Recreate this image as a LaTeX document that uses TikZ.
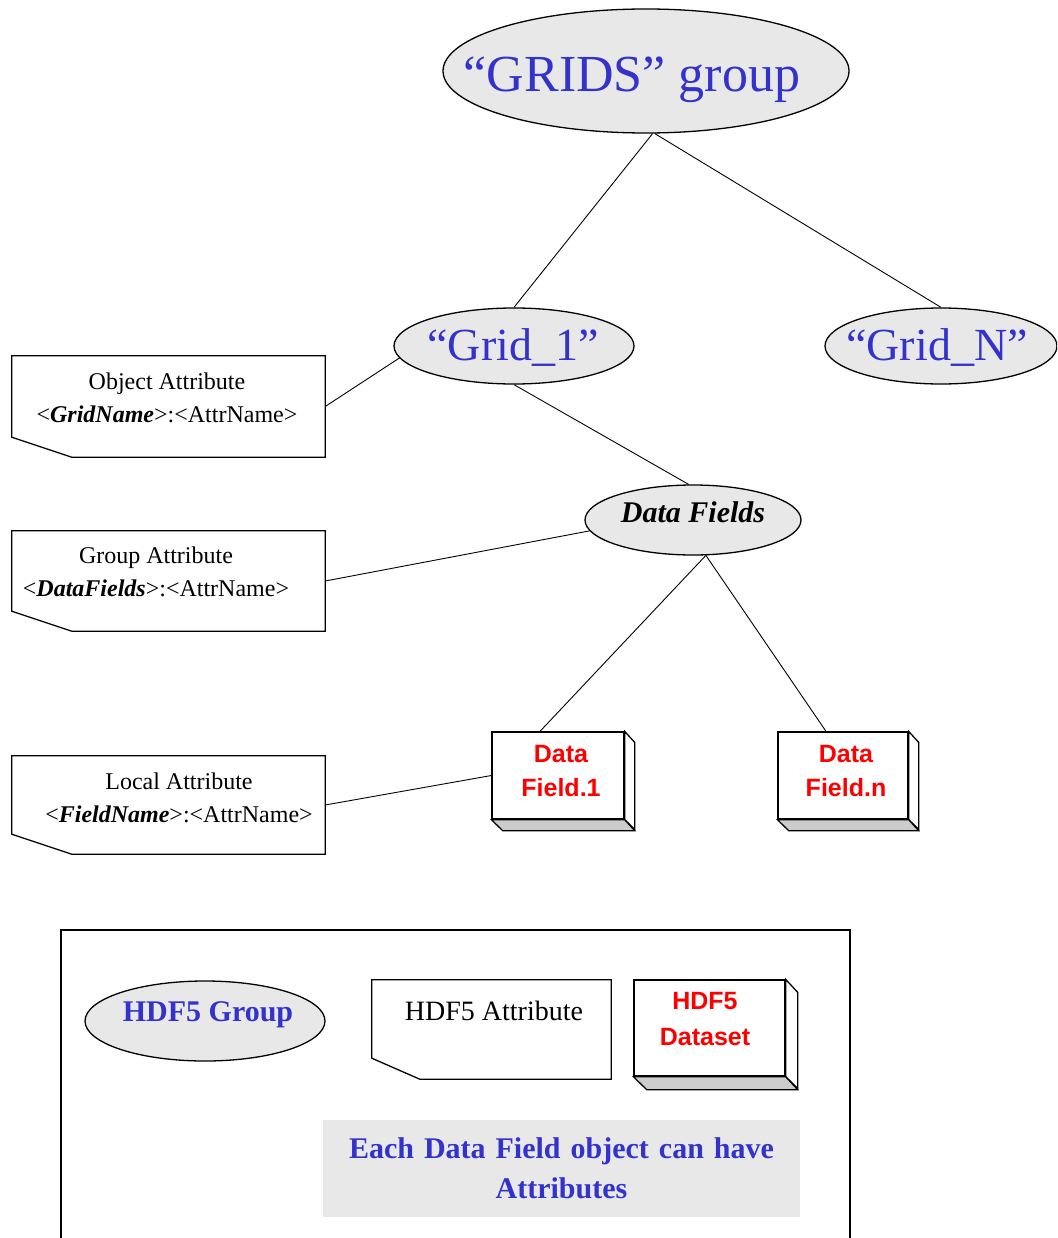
\documentclass[tikz,border=0pt]{standalone}
\usepackage{fontspec}
\setmainfont{Liberation Serif}
\newfontfamily\arialf{Liberation Sans}
\usetikzlibrary{shapes.geometric}
\definecolor{tblue}{RGB}{51,51,204}
\definecolor{ellgray}{RGB}{232,232,232}
\definecolor{facegray}{RGB}{204,204,204}
\definecolor{tred}{RGB}{255,0,0}
\begin{document}
\begin{tikzpicture}[x=1pt,y=-1pt,
  ell/.style={ellipse, draw, fill=ellgray, line width=1.3pt, inner sep=0pt},
  conn/.style={line width=0.9pt},
  attrframe/.style={rectangle, draw=none, inner sep=0pt, minimum width=313pt},
  outline/.style={line width=1.3pt, line join=miter},
  attrtext/.style={align=center, inner sep=0pt, font=\fontsize{24}{33}\selectfont},
  lbl/.style={inner sep=0pt, align=center},
  dsbox/.style={rectangle, draw, fill=white, line width=1.3pt, inner sep=0pt, minimum height=87pt},
  dstext/.style={lbl, text=tred, font=\arialf\bfseries\fontsize{25}{34}\selectfont}
]
\useasboundingbox (0,0) rectangle (1057,1238);
\clip (0,0) rectangle (1057,1238);

% ellipses
\node[ell, minimum width=406pt, minimum height=124pt] (grids) at (646,71) {};
\node[lbl, text=tblue, font=\fontsize{52}{60}\selectfont] (gridst) at (632,80) {“GRIDS” group};
\node[ell, minimum width=240pt, minimum height=76pt] (g1) at (514,346) {};
\node[lbl, text=tblue, font=\fontsize{46}{52}\selectfont] (g1t) at (513,348) {“Grid\_1”};
\node[ell, minimum width=232pt, minimum height=76pt] (gN) at (941,346) {};
\node[lbl, text=tblue, font=\fontsize{46}{52}\selectfont] (gNt) at (937,348) {“Grid\_N”};
\node[ell, minimum width=216pt, minimum height=70pt] (dfs) at (693,520) {};
\node[lbl, font=\bfseries\itshape\fontsize{30}{34}\selectfont] (dfst) at (693,512) {Data Fields};

% attribute boxes
\node[attrframe, minimum height=101pt] (oa) at (168.5,406.5) {};
\draw[outline] (oa.north west) -- (oa.north east) -- (oa.south east) -- ([xshift=60pt]oa.south west) -- ([yshift=20pt]oa.south west) -- cycle;
\node[attrtext] (oat) at (167,398) {Object Attribute\\<\textbf{\textit{GridName}}>:<AttrName>};

\node[attrframe, minimum height=100pt] (ga) at (168.5,581) {};
\draw[outline] (ga.north west) -- (ga.north east) -- (ga.south east) -- ([xshift=60pt]ga.south west) -- ([yshift=20pt]ga.south west) -- cycle;
\node[attrtext] (gat) at (156,572) {Group Attribute\\<\textbf{\textit{DataFields}}>:<AttrName>};

\node[attrframe, minimum height=98pt] (la) at (168.5,805) {};
\draw[outline] (la.north west) -- (la.north east) -- (la.south east) -- ([xshift=60pt]la.south west) -- ([yshift=20pt]la.south west) -- cycle;
\node[attrtext] (lat) at (179,798) {Local Attribute\\<\textbf{\textit{FieldName}}>:<AttrName>};

% data field boxes
\node[dsbox, minimum width=132pt] (df1) at (558,775.5) {};
\draw[outline, fill=white] (df1.north east) -- ++(10,11) -- ++(0,87) -- (df1.south east) -- cycle;
\draw[outline, fill=facegray] (df1.south west) -- (df1.south east) -- ++(10,11) -- ++(-132,0) -- cycle;
\node[dstext] (df1t) at (561,771) {Data\\Field.1};

\node[dsbox, minimum width=130pt] (dfn) at (843,775.5) {};
\draw[outline, fill=white] (dfn.north east) -- ++(10,11) -- ++(0,87) -- (dfn.south east) -- cycle;
\draw[outline, fill=facegray] (dfn.south west) -- (dfn.south east) -- ++(10,11) -- ++(-130,0) -- cycle;
\node[dstext] (dfnt) at (846,771) {Data\\Field.n};

% connectors
\draw[conn] (grids.-84) -- (g1.north);
\draw[conn] (grids.-82) -- (gN.north);
\draw[conn] (g1.186) -- (oa.east);
\draw[conn] (g1.south) -- (dfs.97);
\draw[conn] (dfs.186) -- (ga.east);
\draw[conn] (dfs.-70) -- ([xshift=-18pt]df1.north);
\draw[conn] (dfs.-70) -- ([xshift=-17pt]dfn.north);
\draw[conn] (df1.west) -- (la.east);

% legend
\draw[line width=1.4pt] (61,930) rectangle (850,1260);
\node[ell, minimum width=240pt, minimum height=80pt] (lgroup) at (205,1021) {};
\node[lbl, text=tblue, font=\bfseries\fontsize{30}{34}\selectfont] (lgroupt) at (208,1015) {HDF5 Group};

\node[attrframe, minimum width=239pt, minimum height=99pt] (lattr) at (491.5,1029.5) {};
\draw[outline] (lattr.north west) -- (lattr.north east) -- (lattr.south east) -- ([xshift=48pt]lattr.south west) -- ([yshift=21pt]lattr.south west) -- cycle;
\node[lbl, font=\fontsize{28}{32}\selectfont] (lattrt) at (494,1011) {HDF5 Attribute};

\node[dsbox, minimum width=151pt, minimum height=96pt] (lds) at (709.5,1028) {};
\draw[outline, fill=white] (lds.north east) -- ++(12,13) -- ++(0,96) -- (lds.south east) -- cycle;
\draw[outline, fill=facegray] (lds.south west) -- (lds.south east) -- ++(12,13) -- ++(-151,0) -- cycle;
\node[lbl, text=tred, font=\arialf\bfseries\fontsize{25}{36}\selectfont] (ldst) at (705,1019) {HDF5\\Dataset};

\node[fill=ellgray, minimum width=477pt, minimum height=97pt, text width=470pt, inner sep=0pt, align=center,
      text=tblue, font=\bfseries\fontsize{30}{40}\selectfont] (note) at (561.5,1168.5) {Each Data Field object can have\\Attributes};
\end{tikzpicture}
\end{document}
